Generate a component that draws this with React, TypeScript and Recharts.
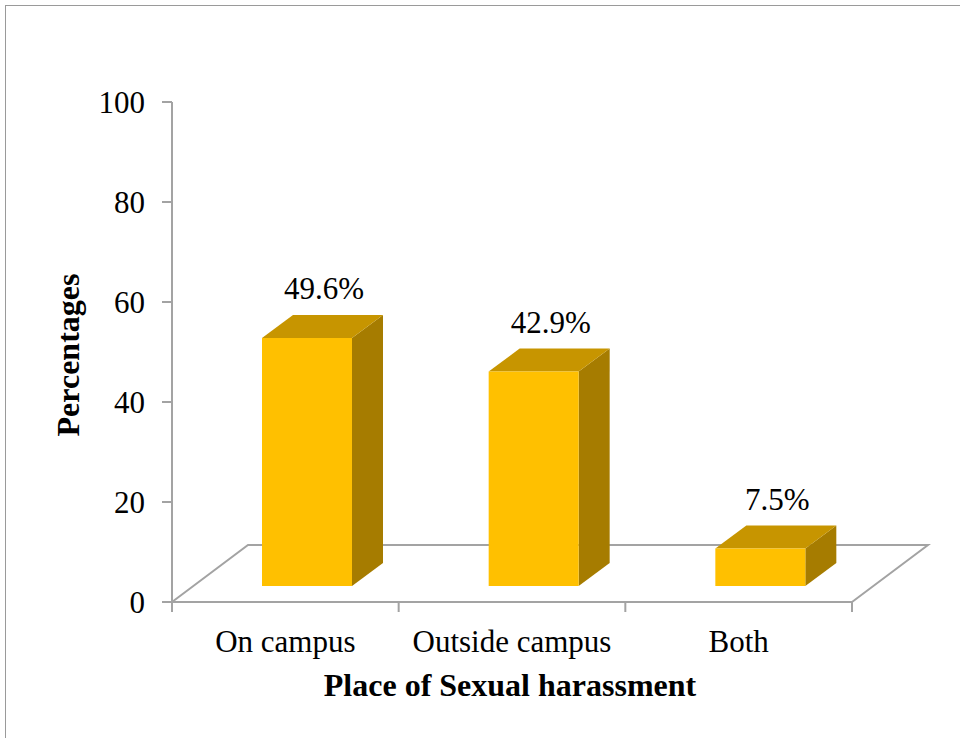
import { Bar, BarChart, XAxis, YAxis, LabelList, Customized } from "recharts"

const categories = ["On campus", "Outside campus", "Both"]
const percentages = [49.6, 42.9, 7.5]
const yTicks = [0, 20, 40, 60, 80, 100]

const data = categories.map((name, i) => ({ name, value: percentages[i] }))

const W = 960
const H = 738
const plotL = 172
const plotR = 852
const plotT = 102
const plotB = 602
const axisW = 1
const margin = { top: plotT, right: W - plotR, bottom: H - plotB - axisW, left: plotL - axisW }
const band = (plotR - plotL) / categories.length

// fake 3D: floor depth and bar depth
const floorDx = 76
const floorDy = -57
const barShiftX = 22
const barShiftY = -16
const sideDx = 31
const sideDy = -23

const grey = "#a3a3a3"
const font = "'Liberation Serif', 'Times New Roman', serif"
const txt = { fontFamily: font, fontSize: 31, fill: "#000" }
const bold = { ...txt, fontSize: 32, fontWeight: "bold" as const }

function Bar3D(props: any) {
  const { x, y, width, height } = props
  const fx = x + barShiftX
  const fy = y + barShiftY
  const w = width
  const h = height
  return (
    <g>
      <polygon
        points={`${fx + w},${fy} ${fx + w + sideDx},${fy + sideDy} ${fx + w + sideDx},${fy + h + sideDy} ${fx + w},${fy + h}`}
        fill="#a67c00"
      />
      <polygon
        points={`${fx},${fy} ${fx + sideDx},${fy + sideDy} ${fx + w + sideDx},${fy + sideDy} ${fx + w},${fy}`}
        fill="#c79500"
      />
      <rect x={fx} y={fy} width={w} height={h} fill="#ffc000" />
    </g>
  )
}

function ValueLabel(props: any) {
  const x = Number(props.x)
  const y = Number(props.y)
  const width = Number(props.width)
  return (
    <text x={x + width / 2 + barShiftX + 17} y={y + barShiftY + sideDy - 16} textAnchor="middle" style={txt}>
      {`${props.value}%`}
    </text>
  )
}

function XTick(props: any) {
  const { x, payload, index } = props
  const y = plotB
  const half = band / 2
  return (
    <g>
      <line x1={x - half} y1={y} x2={x - half} y2={y + 10} stroke={grey} strokeWidth={2} />
      {index === categories.length - 1 && (
        <line x1={x + half} y1={y} x2={x + half} y2={y + 10} stroke={grey} strokeWidth={2} />
      )}
      <text x={x} y={y + 50} textAnchor="middle" style={txt}>
        {payload.value}
      </text>
    </g>
  )
}

function YTick(props: any) {
  const { y, payload } = props
  return (
    <g>
      <line x1={plotL - 10} y1={y} x2={plotL} y2={y} stroke={grey} strokeWidth={2} />
      <text x={plotL - 27} y={y + 11} textAnchor="end" style={txt}>
        {payload.value}
      </text>
    </g>
  )
}

function Floor() {
  return (
    <g>
      <polyline
        points={`${plotL},${plotB} ${plotL + floorDx},${plotB + floorDy} ${plotR + floorDx},${plotB + floorDy} ${plotR},${plotB}`}
        fill="none"
        stroke={grey}
        strokeWidth={2}
      />
      <line x1={plotL} y1={plotB} x2={plotR} y2={plotB} stroke={grey} strokeWidth={2} />
      <line x1={plotL} y1={plotT} x2={plotL} y2={plotB} stroke={grey} strokeWidth={2} />
      <text transform={`translate(79, 355) rotate(-90)`} textAnchor="middle" style={bold}>
        Percentages
      </text>
      <text x={510} y={696} textAnchor="middle" style={bold}>
        Place of Sexual harassment
      </text>
    </g>
  )
}

export default function App() {
  return (
    <div style={{ position: "fixed", left: 0, top: 0, width: W, height: H, overflow: "hidden", background: "#fff" }}>
      <div
        style={{
          position: "absolute",
          left: 5,
          top: 5,
          width: 1000,
          height: 800,
          border: "1px solid #9a9a9a",
        }}
      />
      <div style={{ position: "absolute", left: 0, top: 0 }}>
        <BarChart width={W} height={H} data={data} margin={margin} barSize={90}>
          <Customized component={Floor} />
          <XAxis dataKey="name" height={axisW} tickLine={false} axisLine={false} tick={<XTick />} interval={0} />
          <YAxis
            width={axisW}
            domain={[0, 100]}
            ticks={yTicks}
            tickLine={false}
            axisLine={false}
            tick={<YTick />}
            interval={0}
          />
          <Bar dataKey="value" shape={<Bar3D />} isAnimationActive={false}>
            <LabelList dataKey="value" content={<ValueLabel />} />
          </Bar>
        </BarChart>
      </div>
    </div>
  )
}
